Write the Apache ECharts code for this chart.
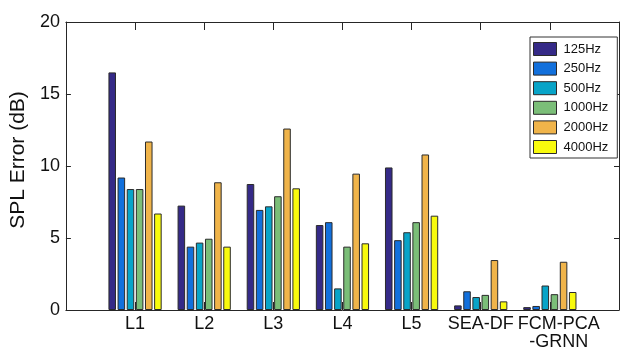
<!DOCTYPE html>
<html>
<head>
<meta charset="utf-8">
<script src="https://cdn.jsdelivr.net/npm/echarts@6/dist/echarts.min.js"></script>
<style>html,body{margin:0;padding:0;background:#fff}#c{width:622px;height:352px}</style>
</head>
<body>
<div id="c"></div>
<script>
var categories = ['L1', 'L2', 'L3', 'L4', 'L5', 'SEA-DF', 'FCM-PCA\n-GRNN'];
var seriesNames = ['125Hz', '250Hz', '500Hz', '1000Hz', '2000Hz', '4000Hz'];
var hz125  = [16.5, 7.25, 8.75, 5.9, 9.9, 0.32, 0.2];
var hz250  = [9.2, 4.4, 6.95, 6.1, 4.85, 1.3, 0.28];
var hz500  = [8.4, 4.68, 7.2, 1.5, 5.4, 0.9, 1.7];
var hz1000 = [8.4, 4.95, 7.9, 4.4, 6.1, 1.05, 1.1];
var hz2000 = [11.7, 8.87, 12.6, 9.47, 10.8, 3.47, 3.35];
var hz4000 = [6.7, 4.4, 8.45, 4.63, 6.55, 0.6, 1.25];
var yTicks = [0, 5, 10, 15, 20];
var colors = ['#352a87', '#1270dc', '#08a4c8', '#7bbe78', '#f0b44a', '#f8fa0d'];
var allValues = [hz125, hz250, hz500, hz1000, hz2000, hz4000];

var FONT = '"Liberation Sans", Arial, Helvetica, sans-serif';
var AXC = '#262626';

var chart = echarts.init(document.getElementById('c'), null, {renderer: 'canvas'});

var series = seriesNames.map(function (name, k) {
  return {
    name: name,
    type: 'bar',
    xAxisIndex: 0,
    yAxisIndex: 0,
    barCategoryGap: '23%',
    barGap: '21%',
    itemStyle: {color: colors[k], borderColor: '#2b2b2b', borderWidth: 1},
    emphasis: {disabled: true},
    data: allValues[k].map(function (v, i) { return [i + 1, v]; })
  };
});

function xAxisBase(pos, showLabel) {
  return {
    type: 'value',
    position: pos,
    min: 0,
    max: categories.length + 1,
    interval: 1,
    splitLine: {show: false},
    axisLine: {show: true, onZero: false, lineStyle: {color: AXC, width: 1}},
    axisTick: {show: true, inside: true, length: 8, lineStyle: {color: AXC}},
    axisLabel: {
      show: showLabel,
      margin: 5,
      fontFamily: FONT,
      fontSize: 18,
      color: '#111',
      lineHeight: 18,
      formatter: function (v) {
        var c = categories[Math.round(v) - 1];
        if (!c) return '';
        if (c.indexOf('\n') >= 0) return '{s|' + c + '}';
        return c;
      },
      rich: {s: {fontFamily: FONT, fontSize: 18, color: '#111', lineHeight: 18, padding: [0, 0, 0, 18]}}
    }
  };
}

function yAxisBase(pos, showLabel) {
  return {
    type: 'value',
    position: pos,
    min: yTicks[0],
    max: yTicks[yTicks.length - 1],
    interval: yTicks[1] - yTicks[0],
    splitLine: {show: false},
    axisLine: {show: true, onZero: false, lineStyle: {color: AXC, width: 1}},
    axisTick: {show: true, inside: true, length: 5, lineStyle: {color: AXC}},
    axisLabel: {show: showLabel, margin: 6, fontFamily: FONT, fontSize: 18, color: '#111'}
  };
}

var yLeft = yAxisBase('left', true);
yLeft.name = 'SPL Error (dB)';
yLeft.nameLocation = 'middle';
yLeft.nameGap = 36;
yLeft.nameTextStyle = {fontFamily: FONT, fontSize: 21, color: '#111', padding: [0, 0, 0, 12]};

chart.setOption({
  animation: false,
  backgroundColor: '#fff',
  grid: {left: 64.5, top: 22, width: 560, height: 288, containLabel: false},
  xAxis: [xAxisBase('bottom', true), xAxisBase('top', false)],
  yAxis: [yLeft, yAxisBase('right', false)],
  legend: {
    orient: 'vertical',
    left: 530,
    top: 37,
    data: seriesNames,
    icon: 'rect',
    itemWidth: 23,
    itemHeight: 13,
    itemGap: 5.6,
    padding: [5, 9, 4, 3],
    borderColor: '#333',
    borderWidth: 1,
    backgroundColor: '#fff',
    selectedMode: false,
    textStyle: {fontFamily: FONT, fontSize: 13, color: '#111', padding: [0, 0, 0, 2]},
    itemStyle: {borderColor: '#2b2b2b', borderWidth: 1}
  },
  series: series
});
</script>
</body>
</html>
